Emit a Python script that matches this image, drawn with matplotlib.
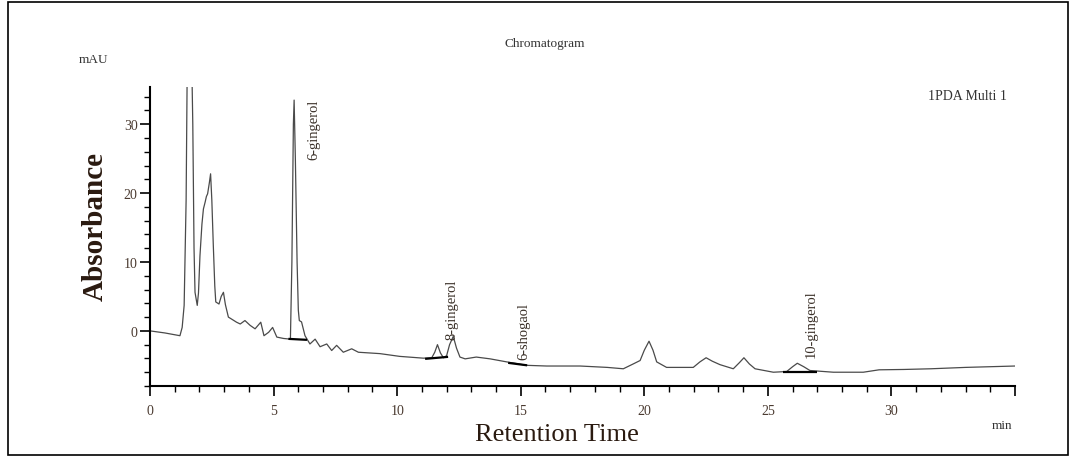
import matplotlib
matplotlib.use("Agg")
import matplotlib.pyplot as plt
from matplotlib.ticker import MultipleLocator
from matplotlib.patches import Rectangle

# ---- data ----
time_min = [0.0, 0.6, 1.21, 1.30, 1.38, 1.46, 1.52, 1.58, 1.66, 1.73, 1.78, 1.82, 1.91, 1.96,
            2.02, 2.10, 2.16, 2.23, 2.28, 2.33, 2.40, 2.45, 2.50, 2.56, 2.62, 2.66, 2.79, 2.88,
            2.97, 3.05, 3.17, 3.35, 3.50, 3.65, 3.84, 4.05, 4.25, 4.48, 4.61, 4.80, 4.96, 5.13,
            5.40, 5.68, 5.74, 5.80, 5.83, 5.88, 5.95, 6.00, 6.04, 6.13, 6.20, 6.27, 6.47, 6.68,
            6.88, 7.15, 7.35, 7.55, 7.82, 8.16, 8.43, 9.3, 10.1, 11.06, 11.4, 11.52, 11.63, 11.75,
            11.87, 12.0, 12.12, 12.27, 12.40, 12.54, 12.75, 13.2, 13.76, 14.43, 15.24, 16.05, 17.1,
            17.4, 18.5, 19.15, 19.55, 19.83, 20.0, 20.19, 20.35, 20.5, 20.9, 21.98, 22.25, 22.5,
            22.75, 23.06, 23.6, 23.85, 24.03, 24.25, 24.48, 25.22, 25.76, 26.0, 26.19, 26.45, 26.7,
            27.65, 28.86, 29.5, 30.5, 31.6, 33.0, 35.0]
absorbance_mau = [0.0, -0.3, -0.7, 0.5, 3.7, 19.0, 45, 60, 45, 30, 12, 5.6, 3.7, 5.5,
                  10.9, 15.5, 17.7, 18.7, 19.5, 19.9, 21.5, 22.8, 19, 12.4, 6.5, 4.2, 3.9, 5.0,
                  5.6, 3.8, 2.0, 1.6, 1.26, 1.0, 1.5, 0.8, 0.3, 1.26, -0.7, -0.2, 0.5, -0.9,
                  -1.1, -1.2, 10, 30, 33.5, 25, 10, 3, 1.5, 1.3, 0.3, -0.7, -1.9, -1.2,
                  -2.3, -1.9, -2.85, -2.1, -3.1, -2.6, -3.1, -3.3, -3.7, -3.96, -3.9, -3.1, -2.0, -3.2,
                  -3.9, -3.6, -2.0, -0.8, -2.5, -3.8, -4.06, -3.8, -4.06, -4.5, -5.0, -5.1, -5.1,
                  -5.1, -5.3, -5.5, -4.8, -4.3, -2.8, -1.5, -2.8, -4.5, -5.3, -5.3, -4.5, -3.9,
                  -4.4, -4.9, -5.5, -4.6, -3.9, -4.8, -5.5, -6.0, -5.9, -5.2, -4.7, -5.2, -5.75,
                  -6.0, -6.0, -5.65, -5.6, -5.5, -5.3, -5.1]

peak_names = ["6-gingerol", "8-gingerol", "6-shogaol", "10-gingerol"]
label_time = [6.64, 12.21, 15.13, 26.75]
label_mau = [24.9, -1.2, -4.1, -3.8]
base_t0 = [5.60, 11.13, 14.49, 25.60]
base_t1 = [6.35, 12.06, 15.26, 27.00]
base_a0 = [-1.16, -4.06, -4.64, -6.0]
base_a1 = [-1.30, -3.77, -5.00, -6.0]

x_ticks = [0, 5, 10, 15, 20, 25, 30, 35]
x_tick_labels = ["0", "5", "10", "15", "20", "25", "30", ""]
y_ticks = [0, 10, 20, 30]

# ---- figure ----
plt.rcParams['font.family'] = ['Liberation Serif', 'DejaVu Serif']
fig = plt.figure(figsize=(10.74, 4.6), dpi=100)
ax = fig.add_axes([0.1397, 0.1587, 0.8054, 0.65])

ax.plot(time_min, absorbance_mau, color='#4a4a4a', lw=0.9, clip_on=True)
for t0, t1, a0, a1 in zip(base_t0, base_t1, base_a0, base_a1):
    ax.plot([t0, t1], [a0, a1], color='black', lw=1.6, solid_capstyle='butt')
for name, t, a in zip(peak_names, label_time, label_mau):
    ax.text(t, a, name, rotation=90, ha='center', va='bottom', fontsize=10.5,
            color='#3a3028')

ax.set_xlim(0, 35)
ax.set_ylim(-8, 35.4)
ax.set_xticks(x_ticks)
ax.set_xticklabels(x_tick_labels)
ax.set_yticks(y_ticks)
ax.xaxis.set_minor_locator(MultipleLocator(1))
ax.yaxis.set_minor_locator(MultipleLocator(2))
ax.tick_params(axis='both', which='major', direction='out', length=7, width=1.2,
               labelsize=10, labelcolor='#4a3a30', color='black')
ax.tick_params(axis='both', which='minor', direction='out', length=4, width=1.0, color='black')
ax.tick_params(axis='x', pad=6)
ax.tick_params(axis='y', pad=2)
for s in ['top', 'right']:
    ax.spines[s].set_visible(False)
for s in ['left', 'bottom']:
    ax.spines[s].set_linewidth(1.5)

fig.text(545/1074, 1 - 44/460, "Chromatogram", ha='center', va='center', fontsize=9.5, color='#333')
fig.text(94/1074, 1 - 60/460, "mAU", ha='center', va='center', fontsize=9.5, color='#333')
fig.text(967/1074, 1 - 97/460, "1PDA Multi 1", ha='center', va='center', fontsize=10, color='#333')
fig.text(1002/1074, 1 - 426/460, "min", ha='center', va='center', fontsize=9.5, color='#333')
fig.text(95/1074, 1 - 227/460, "Absorbance", rotation=90, ha='center', va='center',
         fontsize=21, fontweight='bold', color='#2a1a10')
fig.text(557/1074, 1 - 435/460, "Retention Time", ha='center', va='center',
         fontsize=19, color='#2a1a10')

fig.patches.append(Rectangle((8/1074, 1 - 456/460), 1060/1074, 453/460,
                             transform=fig.transFigure, fill=False, ec='black', lw=1.2))

fig.savefig("out.png", dpi=100)
